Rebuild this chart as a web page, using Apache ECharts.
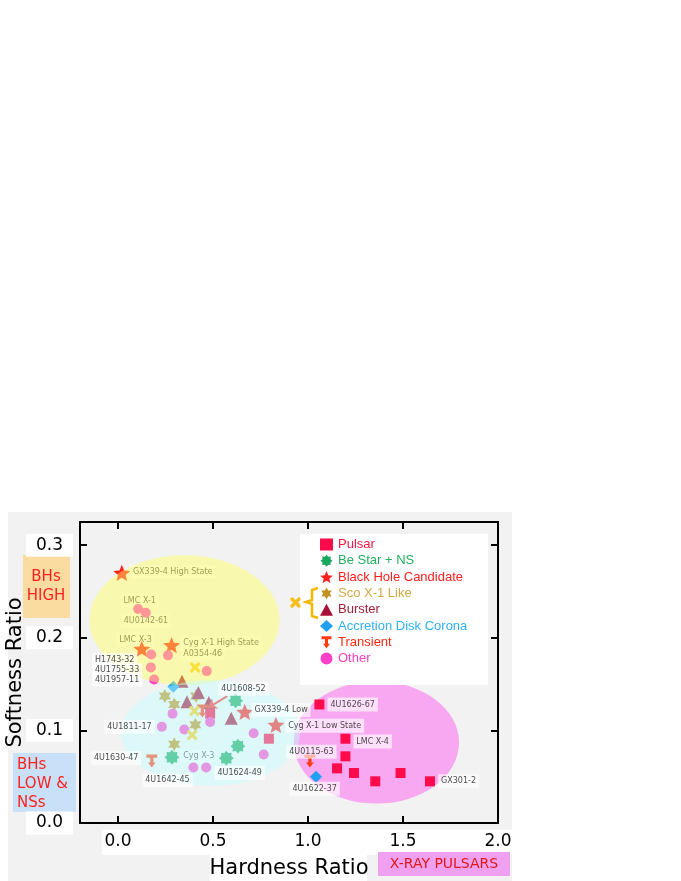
<!DOCTYPE html>
<html>
<head>
<meta charset="utf-8">
<script src="https://cdn.jsdelivr.net/npm/echarts@6/dist/echarts.min.js"></script>
<style>
  html, body { margin: 0; padding: 0; background: #fff; }
  #chart { width: 681px; height: 881px; }
</style>
</head>
<body>
<div id="chart"></div>
<script>
// source groups, [hardness, softness]
const pulsar = [[1.06, 0.128], [1.197, 0.091], [1.197, 0.072], [1.153, 0.059], [1.242, 0.054],
  [1.354, 0.045], [1.487, 0.054], [1.642, 0.045], [0.485, 0.118], [0.794, 0.091]]
const beStar = [[0.619, 0.132], [0.631, 0.083], [0.284, 0.071], [0.57, 0.070]]
const bhCandidate = [[0.02, 0.270], [0.125, 0.188], [0.282, 0.192], [0.667, 0.120], [0.831, 0.106]]
const scoLike = [[0.247, 0.137], [0.296, 0.128], [0.411, 0.137], [0.407, 0.106], [0.296, 0.085]]
const burster = [[0.337, 0.153], [0.363, 0.131], [0.423, 0.141], [0.478, 0.130], [0.596, 0.113]]
const adc = [[0.291, 0.147], [1.042, 0.050]]
const transient = [[0.178, 0.067], [1.01, 0.067], [0.444, 0.121]]
const other = [[0.106, 0.231], [0.146, 0.227], [0.175, 0.182], [0.263, 0.181], [0.173, 0.168],
  [0.467, 0.164], [0.19, 0.155], [0.287, 0.118], [0.485, 0.109], [0.231, 0.104], [0.349, 0.101],
  [0.714, 0.097], [0.767, 0.074], [0.397, 0.060], [0.464, 0.060]]
const scoOrBurster = [[0.406, 0.168], [0.402, 0.121], [0.39, 0.095]]

// shaded regions: [cx, cy, rx, ry]
const bhHighRegion = [0.35, 0.219, 0.50, 0.070]
const bhLowRegion = [0.487, 0.097, 0.471, 0.057]
const pulsarRegion = [1.36, 0.087, 0.435, 0.066]

const sourceNames = [
  ['GX339-4 High State', 0.060, 0.271], ['LMC X-1', 0.010, 0.240], ['4U0142-61', 0.012, 0.218],
  ['LMC X-3', -0.012, 0.198], ['Cyg X-1 High State', 0.325, 0.194], ['A0354-46', 0.325, 0.183],
  ['H1743-32', -0.140, 0.176], ['4U1755-33', -0.140, 0.165], ['4U1957-11', -0.140, 0.155],
  ['4U1608-52', 0.525, 0.145], ['GX339-4 Low', 0.700, 0.122], ['Cyg X-1 Low State', 0.877, 0.105],
  ['4U1811-17', -0.075, 0.104], ['4U1630-47', -0.145, 0.070], ['Cyg X-3', 0.325, 0.072],
  ['4U1642-45', 0.125, 0.046], ['4U1624-49', 0.505, 0.054], ['4U1626-67', 1.100, 0.128],
  ['LMC X-4', 1.236, 0.088], ['4U0115-63', 0.883, 0.077], ['4U1622-37', 0.900, 0.037],
  ['GX301-2', 1.682, 0.045]
]
// names printed underneath the translucent BH regions
const shadedNames = ['GX339-4 High State', 'LMC X-1', '4U0142-61', 'LMC X-3',
  'Cyg X-1 High State', 'A0354-46', 'Cyg X-3']
const pointer4U1608 = [[0.575, 0.137], [0.471, 0.124]]

const xTicks = [0, 0.5, 1, 1.5, 2]
const xTopTicks = [0, 0.5, 1, 1.5]

function starPath(n, inner) {
  const pts = []
  for (let i = 0; i < 2 * n; i++) {
    const r = i % 2 ? inner : 1
    const a = Math.PI * i / n - Math.PI / 2
    pts.push((50 + 50 * r * Math.cos(a)).toFixed(1) + ',' + (50 + 50 * r * Math.sin(a)).toFixed(1))
  }
  return 'path://M' + pts.join('L') + 'Z'
}
const teeArrow = 'path://M0,0L10,0L10,3L6.5,3L6.5,7.5L8.5,7.5L5,12L1.5,7.5L3.5,7.5L3.5,3L0,3Z'
const crossMark = 'path://M0,2L2,0L5,3L8,0L10,2L7,5L10,8L8,10L5,7L2,10L0,8L3,5Z'

const chart = echarts.init(document.getElementById('chart'))
const sansFont = 'DejaVu Sans'

function regionSeries(region, color, opacity, z) {
  return {
    type: 'custom',
    z: z,
    silent: true,
    clip: false,
    encode: { x: 0, y: 1 },
    data: [region],
    renderItem: (params, api) => {
      const c = api.coord([api.value(0), api.value(1)])
      const s = api.size([api.value(2), api.value(3)])
      return {
        type: 'ellipse',
        shape: { cx: c[0], cy: c[1], rx: s[0], ry: s[1] },
        style: { fill: color, opacity: opacity }
      }
    }
  }
}

function pointSeries(name, data, symbol, size, color) {
  return {
    name: name,
    type: 'scatter',
    z: 3,
    data: data,
    symbol: symbol,
    symbolSize: size,
    symbolKeepAspect: true,
    itemStyle: { color: color, opacity: 1 }
  }
}

function nameSeries(list, z, bg) {
  return {
    type: 'scatter',
    z: z,
    symbolSize: 1,
    itemStyle: { color: 'transparent' },
    silent: true,
    data: list.map(d => ({ name: d[0], value: [d[1], d[2]] })),
    label: {
      show: true,
      position: 'right',
      distance: 0,
      formatter: p => p.name,
      fontSize: 8,
      fontFamily: sansFont,
      color: '#202020',
      backgroundColor: bg,
      padding: [3, 3, 3, 3]
    }
  }
}

const namesUnder = sourceNames.filter(d => shadedNames.includes(d[0]))
const namesOver = sourceNames.filter(d => !shadedNames.includes(d[0]))

const labelsUnder = nameSeries(namesUnder, 2, 'rgba(255,255,255,0.6)')
labelsUnder.markLine = {
  silent: true,
  symbol: ['none', 'arrow'],
  symbolSize: 9,
  label: { show: false },
  lineStyle: { color: '#ff3030', width: 2, type: 'solid' },
  data: [[{ coord: pointer4U1608[0] }, { coord: pointer4U1608[1] }]]
}

chart.setOption({
  backgroundColor: '#fff',
  animation: false,
  grid: { left: 80, top: 522, right: 183, bottom: 58, show: false, outerBoundsMode: 'none', containLabel: false },
  legend: {
    orient: 'vertical',
    left: 315,
    top: 533,
    z: 10,
    itemWidth: 13,
    itemHeight: 12,
    itemGap: 3.3,
    textStyle: { fontSize: 13, fontFamily: 'Liberation Sans' },
    data: [
      { name: 'Pulsar', textStyle: { color: '#ff1744' } },
      { name: 'Be Star + NS', textStyle: { color: '#22b060' } },
      { name: 'Black Hole Candidate', textStyle: { color: '#ff2020' } },
      { name: 'Sco X-1 Like', textStyle: { color: '#d4a845' } },
      { name: 'Burster', textStyle: { color: '#a0203a' } },
      { name: 'Accretion Disk Corona', textStyle: { color: '#30b0f0' } },
      { name: 'Transient', textStyle: { color: '#ff2a10' } },
      { name: 'Other', textStyle: { color: '#ff40c0' } }
    ]
  },
  xAxis: [{
    type: 'value',
    position: 'bottom',
    min: -0.2,
    max: 2.0,
    z: 3,
    splitLine: { show: false },
    axisLine: { onZero: false, lineStyle: { color: '#000', width: 2 } },
    axisTick: { inside: true, length: 7, customValues: xTicks, lineStyle: { color: '#000', width: 2 } },
    axisLabel: {
      customValues: xTicks, formatter: v => v.toFixed(1), margin: 10,
      fontSize: 17, color: '#000', fontFamily: sansFont
    },
    name: 'Hardness Ratio',
    nameLocation: 'middle',
    nameGap: 35,
    nameMoveOverlap: false,
    nameTextStyle: { fontSize: 21, color: '#000', fontFamily: sansFont }
  }, {
    type: 'value',
    position: 'top',
    min: -0.2,
    max: 2.0,
    z: 3,
    splitLine: { show: false },
    axisLine: { onZero: false, lineStyle: { color: '#000', width: 2 } },
    axisTick: { inside: true, length: 7, customValues: xTopTicks, lineStyle: { color: '#000', width: 2 } },
    axisLabel: { show: false }
  }],
  yAxis: [{
    type: 'value',
    position: 'left',
    min: 0,
    max: 0.325,
    interval: 0.1,
    z: 3,
    splitLine: { show: false },
    axisLine: { onZero: false, lineStyle: { color: '#000', width: 2 } },
    axisTick: { inside: true, length: 7, lineStyle: { color: '#000', width: 2 } },
    axisLabel: {
      formatter: v => v.toFixed(1), margin: 7, fontSize: 17, color: '#000', fontFamily: sansFont,
      backgroundColor: '#fff', padding: [3, 10, 3, 10], showMaxLabel: false
    },
    name: 'Softness Ratio',
    nameLocation: 'middle',
    nameGap: 54,
    nameMoveOverlap: false,
    nameTextStyle: { fontSize: 21, color: '#000', fontFamily: sansFont }
  }, {
    type: 'value',
    position: 'right',
    min: 0,
    max: 0.325,
    interval: 0.1,
    z: 3,
    splitLine: { show: false },
    axisLine: { onZero: false, lineStyle: { color: '#000', width: 2 } },
    axisTick: { inside: true, length: 7, lineStyle: { color: '#000', width: 2 } },
    axisLabel: { show: false }
  }],
  graphic: [
    { type: 'rect', z: -2, silent: true, shape: { x: 8, y: 512, width: 504, height: 369 }, style: { fill: '#f2f2f2' } },
    { type: 'rect', z: -1, silent: true, shape: { x: 102, y: 830, width: 411, height: 25 }, style: { fill: '#fff' } },
    { type: 'rect', z: -1, silent: true, shape: { x: 210, y: 855, width: 157, height: 26 }, style: { fill: '#fff' } },
    { type: 'rect', z: 6, silent: true, shape: { x: 300, y: 534, width: 188, height: 151 }, style: { fill: '#fff' } },
    // bracket grouping Sco X-1 Like and Burster
    { type: 'polyline', z: 11, silent: true,
      shape: { points: [[318, 588], [312, 590], [312, 600], [306, 602], [312, 604], [312, 616], [318, 618]] },
      style: { stroke: '#f5b800', lineWidth: 2.5, fill: null } },
    { type: 'line', z: 11, silent: true, shape: { x1: 292, y1: 599, x2: 299, y2: 606 }, style: { stroke: '#f5c020', lineWidth: 3.5, lineCap: 'round' } },
    { type: 'line', z: 11, silent: true, shape: { x1: 299, y1: 599, x2: 292, y2: 606 }, style: { stroke: '#f5c020', lineWidth: 3.5, lineCap: 'round' } },
    // class boxes beside the axes
    { type: 'rect', z: 1, silent: true, shape: { x: 23, y: 555, width: 47, height: 63 }, style: { fill: '#fbdca0' } },
    { type: 'text', z: 2, silent: true, x: 46, y: 587,
      style: { text: 'BHs\nHIGH', fill: '#ff2020', font: '15px "DejaVu Sans"', align: 'center', verticalAlign: 'middle', lineHeight: 19 } },
    { type: 'rect', z: 1, silent: true, shape: { x: 13, y: 753, width: 63, height: 59 }, style: { fill: '#c8e0f8' } },
    { type: 'text', z: 2, silent: true, x: 17, y: 784,
      style: { text: 'BHs\nLOW &\nNSs', fill: '#ff2020', font: '15px "DejaVu Sans"', align: 'left', verticalAlign: 'middle', lineHeight: 19 } },
    { type: 'rect', z: 1, silent: true, shape: { x: 378, y: 852, width: 132, height: 24 }, style: { fill: '#f0a0f0' } },
    { type: 'text', z: 2, silent: true, x: 444, y: 864,
      style: { text: 'X-RAY PULSARS', fill: '#e01818', font: '14px "DejaVu Sans"', align: 'center', verticalAlign: 'middle' } }
  ],
  series: [
    regionSeries(pulsarRegion, '#f8a8f0', 1, 1),
    pointSeries('Pulsar', pulsar, 'rect', 10, '#ff0a4a'),
    pointSeries('Be Star + NS', beStar, starPath(8, 0.72), 15, '#18a860'),
    pointSeries('Black Hole Candidate', bhCandidate, starPath(5, 0.45), 17, '#ff2020'),
    pointSeries('Sco X-1 Like', scoLike, starPath(6, 0.55), 14, '#c09020'),
    pointSeries('Burster', burster, 'triangle', 13, '#a81038'),
    pointSeries('Accretion Disk Corona', adc, 'diamond', 12, '#20a0f0'),
    pointSeries('Transient', transient, teeArrow, 13, '#ff3a10'),
    pointSeries('Other', other, 'circle', 10, '#ff40c8'),
    pointSeries('Sco X-1 / Burster', scoOrBurster, crossMark, 11, '#f8c818'),
    labelsUnder,
    regionSeries(bhHighRegion, '#ffff5d', 0.45, 5),
    regionSeries(bhLowRegion, '#c1ffff', 0.45, 5),
    nameSeries(namesOver, 6, 'rgba(255,255,255,0.8)')
  ]
})
</script>
</body>
</html>
